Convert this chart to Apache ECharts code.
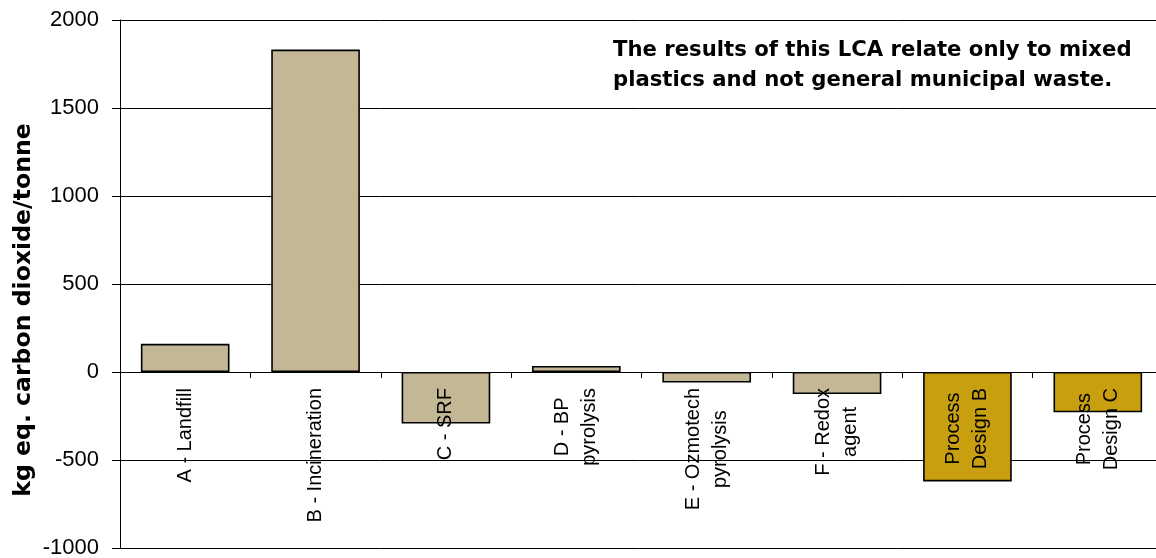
<!DOCTYPE html>
<html>
<head>
<meta charset="utf-8">
<script src="https://cdn.jsdelivr.net/npm/echarts@6/dist/echarts.min.js"></script>
<style>
html,body{margin:0;padding:0;background:#fff;}
#chart{width:1156px;height:558px;}
</style>
</head>
<body>
<div id="chart"></div>
<script>
const categories = ['A - Landfill', 'B - Incineration', 'C - SRF', 'D - BP\npyrolysis', 'E - Ozmotech\npyrolysis', 'F - Redox\nagent', 'Process\nDesign B', 'Process\nDesign C'];
const values = [160, 1832, -293, 34, -60, -125, -622, -229];
const yTicks = [-1000, -500, 0, 500, 1000, 1500, 2000];
const yTitle = 'kg eq. carbon dioxide/tonne';
const noteLines = ['The results of this LCA relate only to mixed', 'plastics and not general municipal waste.'];

const TAN = '#C4B796';
const GOLD = '#C8A00F';

const chart = echarts.init(document.getElementById('chart'), null, {renderer: 'canvas'});
chart.setOption({
  animation: false,
  backgroundColor: '#fff',
  grid: {left: 120, top: 20, width: 1043, height: 528, containLabel: false, outerBoundsMode: 'none'},
  xAxis: {
    type: 'category',
    data: categories,
    z: 10,
    offset: 0,
    axisLine: {onZero: false, lineStyle: {color: '#000', width: 1}},
    axisTick: {show: true, length: 6, inside: false, lineStyle: {color: '#000'}},
    axisLabel: {
      rotate: 90,
      margin: 16,
      interval: 0,
      hideOverlap: false,
      formatter: function (v) {
        return v.split('\n').map(function (s) { return '{c|' + s + '}'; }).join('\n');
      },
      rich: {
        c: {align: 'center', fontFamily: 'Liberation Sans, Arial, sans-serif', fontSize: 20, color: '#000', lineHeight: 27}
      }
    },
    splitLine: {show: false}
  },
  yAxis: {
    type: 'value',
    min: yTicks[0],
    max: yTicks[yTicks.length - 1],
    interval: 500,
    name: yTitle,
    nameLocation: 'middle',
    nameRotate: 90,
    nameGap: 84,
    nameMoveOverlap: false,
    nameTextStyle: {fontFamily: 'DejaVu Sans', fontWeight: 'bold', fontSize: 23.6, color: '#000', padding: [0, 52, 0, 0]},
    axisLine: {show: true, lineStyle: {color: '#000', width: 1}},
    axisTick: {show: true, length: 8, lineStyle: {color: '#000'}},
    axisLabel: {
      margin: 21,
      fontFamily: 'Liberation Sans, Arial, sans-serif',
      fontSize: 22,
      color: '#000',
      formatter: function (v) { return String(v); }
    },
    splitLine: {show: true, lineStyle: {color: '#000', width: 1}}
  },
  series: [{
    type: 'bar',
    data: values,
    barCategoryGap: '32%',
    itemStyle: {
      color: function (p) { return p.name.indexOf('Process') === 0 ? GOLD : TAN; },
      borderColor: '#000',
      borderWidth: 1.6
    }
  }],
  graphic: [{
    type: 'text',
    left: 613,
    top: 35,
    z: 20,
    style: {
      text: noteLines.join('\n'),
      fontFamily: 'DejaVu Sans',
      fontWeight: 'bold',
      fontSize: 21.2,
      lineHeight: 30,
      fill: '#000'
    }
  }]
});

// Move the category axis (line, ticks and labels) up to the value-axis zero line.
const zeroY = chart.convertToPixel({yAxisIndex: 0}, 0);
const bottomY = chart.convertToPixel({yAxisIndex: 0}, yTicks[0]);
chart.setOption({xAxis: {offset: zeroY - bottomY}});
</script>
</body>
</html>
